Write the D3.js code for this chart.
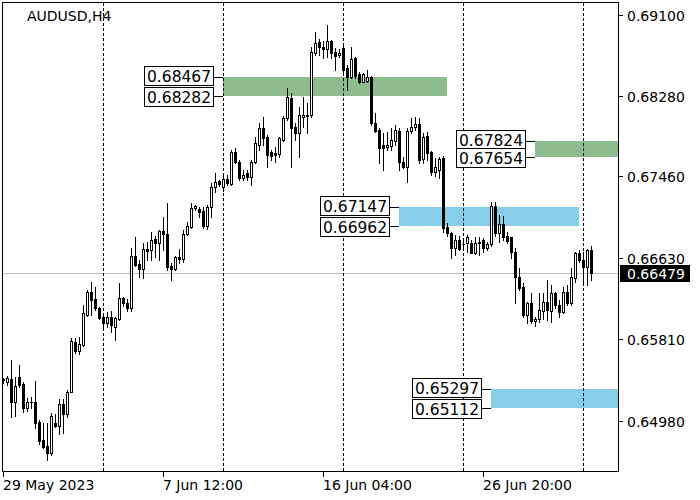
<!DOCTYPE html>
<html><head><meta charset="utf-8">
<script src="https://cdn.jsdelivr.net/npm/d3@7"></script>
<style>body{margin:0;background:#fff}svg{display:block}text{font-family:"DejaVu Sans",sans-serif}</style>
</head><body><svg id="c" width="700" height="500"></svg>
<script>
const symbol = "AUDUSD,H4";
const open = [
.65396,.65368,.65406,.65173,.65426,.65355,.65112,.65173,.65170,.64970,
.64787,.64726,.64655,.64960,.64929,.65152,.65051,.65274,.65781,.65690,
.65751,.66055,.66289,.66218,.66126,.66035,.65974,.66035,.65934,.66015,
.66228,.66177,.66126,.66654,.66573,.66522,.66725,.66715,.66827,.66786,
.66908,.66877,.66553,.66522,.66644,.66624,.66877,.66948,.67141,.67131,
.67111,.66959,.67151,.67354,.67415,.67354,.67435,.67385,.67710,.67608,
.67446,.67496,.67456,.67608,.67781,.67953,.67862,.67710,.67699,.67689,
.67831,.68055,.68258,.67963,.67902,.68065,.68085,.68085,.68714,.68825,
.68775,.68755,.68835,.68724,.68694,.68765,.68562,.68471,.68663,.68501,
.68420,.68430,.68471,.68004,.67933,.67781,.67760,.67770,.67821,.67923,
.67608,.67557,.67923,.67963,.67994,.67638,.67872,.67710,.67507,.67527,
.67649,.66948,.66888,.66735,.66817,.66776,.66786,.66786,.66685,.66796,
.66817,.66735,.66776,.67161,.66888,.66979,.66857,.66847,.66695,.66441,
.66339,.66055,.66177,.65994,.66015,.66096,.66187,.66096,.66279,.66157,
.66086,.66289,.66177,.66431,.66685,.66614,.66542,.66715];
const high = [
.65416,.65436,.65599,.65426,.65548,.65375,.65213,.65223,.65386,.64990,
.64960,.64960,.65061,.65050,.65203,.65203,.65294,.65822,.65822,.65832,
.66157,.66309,.66390,.66339,.66137,.66076,.66086,.66096,.66035,.66380,
.66238,.66218,.66735,.66847,.66614,.66786,.66796,.66898,.66857,.66918,
.67050,.67192,.66583,.66654,.66725,.66918,.66999,.67192,.67172,.67151,
.67151,.67172,.67395,.67496,.67425,.67476,.67476,.67730,.67750,.67628,
.67527,.67527,.67628,.67862,.68004,.68065,.67882,.67730,.67760,.67862,
.68075,.68359,.68308,.68004,.68166,.68268,.68207,.68775,.68927,.68856,
.68835,.68998,.68846,.68765,.68755,.68815,.68592,.68775,.68674,.68521,
.68511,.68542,.68481,.68105,.67953,.67902,.67913,.67953,.67983,.67953,
.67659,.67953,.68055,.68065,.68055,.67902,.67913,.67715,.67649,.67659,
.67669,.66989,.66898,.66867,.66857,.66837,.66867,.66817,.66847,.66847,
.66837,.66796,.67202,.67202,.67070,.67060,.66898,.66850,.66735,.66532,
.66380,.66187,.66279,.66035,.66279,.66279,.66410,.66360,.66289,.66208,
.66339,.66360,.66532,.66695,.66715,.66695,.66725,.66756];
const low = [
.65365,.65345,.65020,.65030,.65325,.65071,.65081,.65112,.64909,.64746,
.64706,.64584,.64635,.64919,.64848,.64858,.65020,.65270,.65670,.65660,
.65741,.66045,.66055,.66106,.66015,.65913,.65934,.65883,.65802,.66004,
.66147,.66096,.66096,.66553,.66441,.66431,.66614,.66614,.66644,.66614,
.66715,.66512,.66410,.66512,.66583,.66593,.66867,.66938,.67121,.67050,
.66938,.66928,.67050,.67303,.67365,.67314,.67375,.67375,.67598,.67425,
.67425,.67425,.67375,.67598,.67730,.67781,.67557,.67628,.67608,.67659,
.67821,.68034,.67557,.67831,.67659,.67963,.67902,.68065,.68694,.68694,
.68663,.68674,.68663,.68542,.68674,.68491,.68339,.68461,.68461,.68410,
.68415,.68420,.67983,.67913,.67598,.67527,.67730,.67730,.67781,.67527,
.67547,.67405,.67902,.67933,.67598,.67598,.67628,.67476,.67466,.67446,
.66898,.66857,.66634,.66664,.66715,.66725,.66695,.66680,.66675,.66664,
.66695,.66715,.66756,.66857,.66796,.66817,.66786,.66634,.66177,.66309,
.66035,.65974,.65974,.65944,.65984,.66015,.66004,.65984,.66126,.66035,
.66076,.66157,.66157,.66390,.66593,.66360,.66360,.66410];
const close = [
.65399,.65413,.65173,.65335,.65345,.65112,.65173,.65170,.64960,.64777,
.64716,.64655,.65030,.64929,.65152,.65051,.65274,.65792,.65690,.65761,
.66076,.66289,.66208,.66126,.66025,.65974,.66035,.65954,.66025,.66228,
.66177,.66126,.66654,.66563,.66522,.66725,.66705,.66817,.66786,.66908,
.66877,.66542,.66522,.66644,.66624,.66877,.66959,.67141,.67161,.67101,
.66959,.67151,.67354,.67405,.67385,.67435,.67395,.67710,.67608,.67446,
.67476,.67456,.67608,.67801,.67953,.67852,.67679,.67669,.67679,.67852,
.68055,.68268,.67953,.67902,.68085,.68085,.68075,.68724,.68815,.68775,
.68755,.68835,.68714,.68684,.68714,.68542,.68471,.68653,.68481,.68420,
.68501,.68471,.68004,.67923,.67750,.67750,.67781,.67831,.67933,.67608,
.67557,.67923,.67963,.67994,.67628,.67862,.67699,.67507,.67557,.67638,
.66938,.66888,.66735,.66817,.66725,.66772,.66847,.66685,.66786,.66786,
.66735,.66776,.67161,.66888,.66979,.66847,.66806,.66695,.66441,.66329,
.66055,.66177,.65994,.66015,.66106,.66187,.66106,.66279,.66157,.66086,
.66289,.66177,.66441,.66685,.66614,.66542,.66715,.66479];

const yTickValues = [0.69100, 0.68280, 0.67460, 0.66630, 0.65810, 0.64980];
const yTickLabels = ["0.69100", "0.68280", "0.67460", "0.66630", "0.65810", "0.64980"];
const xTickIndex = [0, 40, 80, 120];
const xTickLabels = ["29 May 2023", "7 Jun 12:00", "16 Jun 04:00", "26 Jun 20:00"];
const weekStartIndex = [25, 55, 85, 115, 145];
const zoneTop = [0.68467, 0.67824, 0.67147, 0.65297];
const zoneBottom = [0.68282, 0.67654, 0.66962, 0.65112];
const zoneTopLabel = ["0.68467", "0.67824", "0.67147", "0.65297"];
const zoneBottomLabel = ["0.68282", "0.67654", "0.66962", "0.65112"];
const zoneStart = [55, 133, 99, 122];
const zoneEnd = [111, null, 144, null];
const zoneColor = ["#8fbc8f", "#8fbc8f", "#87ceeb", "#87ceeb"];
const lastPrice = 0.66479;
const lastPriceLabel = "0.66479";

const svg = d3.select("#c");
const L = 3, R = 618, T = 3, B = 471;
const x = d3.scaleLinear().domain([0, 147]).range([3, 591]);
const y = d3.scaleLinear().domain([0.69100, 0.64980]).range([15, 420.7]);
const ry = v => Math.round(y(v));

// zones
const zones = d3.range(zoneTop.length).map(k => ({
  x0: Math.round(x(zoneStart[k])),
  x1: zoneEnd[k] == null ? R : Math.round(x(zoneEnd[k])),
  yt: ry(zoneTop[k]), yb: ry(zoneBottom[k]), color: zoneColor[k],
  lt: zoneTopLabel[k], lb: zoneBottomLabel[k]
}));
svg.append("g").selectAll("rect").data(zones).join("rect")
  .attr("x", d => d.x0).attr("y", d => d.yt)
  .attr("width", d => d.x1 - d.x0).attr("height", d => d.yb - d.yt)
  .attr("fill", d => d.color);

// current price line
svg.append("line").attr("x1", L).attr("x2", R)
  .attr("y1", ry(lastPrice) + 0.5).attr("y2", ry(lastPrice) + 0.5)
  .attr("stroke", "#c0c0c0").attr("stroke-width", 1);

// week separators
svg.append("g").selectAll("line").data(weekStartIndex).join("line")
  .attr("x1", d => Math.round(x(d)) + 0.5).attr("x2", d => Math.round(x(d)) + 0.5)
  .attr("y1", T).attr("y2", B)
  .attr("stroke", "#000").attr("stroke-dasharray", "3,2");

// candles
const bars = d3.range(open.length).map(i => {
  const c = Math.round(x(i));
  const yo = ry(open[i]), yc = ry(close[i]);
  return { c, yh: ry(high[i]), yl: ry(low[i]), top: Math.min(yo, yc), bot: Math.max(yo, yc), bull: close[i] > open[i] };
});
const cg = svg.append("g").attr("shape-rendering", "crispEdges");
cg.selectAll("rect.w").data(bars).join("rect").attr("class", "w")
  .attr("x", d => d.c).attr("y", d => d.yh).attr("width", 1).attr("height", d => d.yl - d.yh + 1).attr("fill", "#000");
cg.selectAll("rect.b").data(bars).join("rect").attr("class", "b")
  .attr("x", d => d.c - 1).attr("y", d => d.top).attr("width", 3).attr("height", d => d.bot - d.top + 1).attr("fill", "#000");
cg.selectAll("rect.h").data(bars.filter(d => d.bull && d.bot - d.top >= 2)).join("rect").attr("class", "h")
  .attr("x", d => d.c).attr("y", d => d.top + 1).attr("width", 1).attr("height", d => d.bot - d.top - 1).attr("fill", "#fff");

// zone price labels
const lg = svg.append("g");
zones.forEach(z => {
  const bR = z.x0 - 10, bL = bR - 69;
  [[z.yt, z.lt, -1.5], [z.yb, z.lb, 1]].forEach(([ly, txt, off]) => {
    const cy = ly + off;
    lg.append("line").attr("x1", bR).attr("x2", z.x0).attr("y1", ly + 0.5).attr("y2", ly + 0.5).attr("stroke", "#000");
    lg.append("rect").attr("x", bL + 0.5).attr("y", Math.round(cy) - 9.5).attr("width", 69).attr("height", 19)
      .attr("fill", "#fff").attr("stroke", "#000");
    lg.append("text").attr("x", bL + 3).attr("y", Math.round(cy) + 6).attr("font-size", 15.5).attr("fill", "#000").text(txt);
  });
});

// frame
svg.append("rect").attr("x", L - 0.5).attr("y", T - 0.5).attr("width", R - L + 1).attr("height", B - T + 1)
  .attr("fill", "none").attr("stroke", "#000");

// y axis
const ya = svg.append("g");
ya.selectAll("line").data(yTickValues).join("line")
  .attr("x1", R + 1).attr("x2", R + 5).attr("y1", d => ry(d) + 0.5).attr("y2", d => ry(d) + 0.5).attr("stroke", "#000");
ya.selectAll("text").data(yTickValues).join("text")
  .attr("x", 627).attr("y", d => ry(d) + 5.5).attr("font-size", 14).attr("fill", "#000")
  .text((d, i) => yTickLabels[i]);
svg.append("rect").attr("x", 620).attr("y", ry(lastPrice) - 8).attr("width", 70).attr("height", 17).attr("fill", "#000");
svg.append("text").attr("x", 627).attr("y", ry(lastPrice) + 5.5).attr("font-size", 14).attr("fill", "#fff").text(lastPriceLabel);

// x axis
const xa = svg.append("g");
xa.selectAll("line").data(xTickIndex).join("line")
  .attr("x1", d => Math.round(x(d)) + 0.5).attr("x2", d => Math.round(x(d)) + 0.5)
  .attr("y1", B + 1).attr("y2", B + 6).attr("stroke", "#000");
xa.selectAll("text").data(xTickIndex).join("text")
  .attr("x", d => Math.round(x(d))).attr("y", 490).attr("font-size", 14).attr("fill", "#000")
  .text((d, i) => xTickLabels[i]);

// title
svg.append("text").attr("x", 27).attr("y", 21).attr("font-size", 14).attr("fill", "#000").text(symbol);
</script></body></html>
